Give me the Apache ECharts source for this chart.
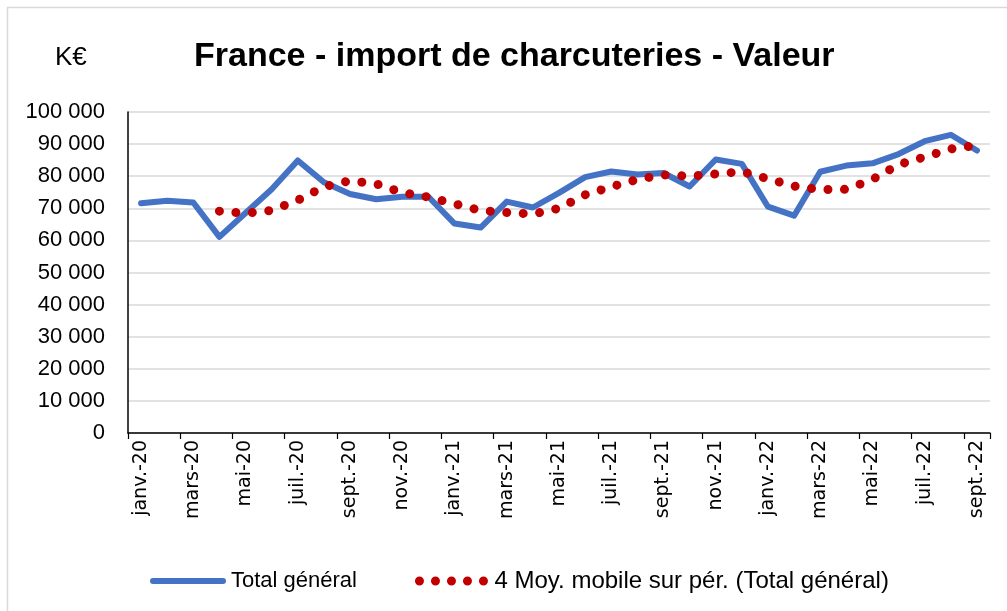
<!DOCTYPE html>
<html>
<head>
<meta charset="utf-8">
<script src="https://cdn.jsdelivr.net/npm/echarts@6/dist/echarts.min.js"></script>
<style>
  html, body { margin: 0; padding: 0; background: #fff; }
  #chart { width: 1007px; height: 611px; }
</style>
</head>
<body>
<div id="chart"></div>
<script>
// Monthly categories, janv.-20 to sept.-22
const months = [
  'janv.-20', 'févr.-20', 'mars-20', 'avr.-20', 'mai-20', 'juin-20', 'juil.-20', 'août-20', 'sept.-20', 'oct.-20', 'nov.-20', 'déc.-20',
  'janv.-21', 'févr.-21', 'mars-21', 'avr.-21', 'mai-21', 'juin-21', 'juil.-21', 'août-21', 'sept.-21', 'oct.-21', 'nov.-21', 'déc.-21',
  'janv.-22', 'févr.-22', 'mars-22', 'avr.-22', 'mai-22', 'juin-22', 'juil.-22', 'août-22', 'sept.-22'
];

// Import value, K€
const totalGeneral = [
  71600, 72350, 71800, 61100, 68550, 75950, 84900, 78100, 74450, 72800, 73600, 73600,
  65250, 64000, 72100, 70250, 74800, 79700, 81450, 80500, 81000, 76800, 85200, 83850,
  70500, 67700, 81400, 83300, 84000, 86900, 90900, 92900, 88000
];

// 4-period moving average, K€
const moyMobile = [
  null, null, null, 69100, 68450, 69350, 72500, 76700, 78600, 77600, 74900, 73500,
  71400, 69300, 68700, 68200, 70000, 74200, 76700, 79000, 80400, 80000, 80700, 81400,
  79200, 76900, 75850, 75900, 79000, 83600, 86000, 88500, 89600
];

const seriesNames = ['Total général', '4 Moy. mobile sur pér. (Total général)'];
const titleText = 'France - import de charcuteries - Valeur';
const unitText = 'K€';

const BLUE = '#4472C4';
const RED = '#C00000';
const FONT = '"Liberation Sans", Arial, sans-serif';
const WIDE_FONT = '"DejaVu Sans", Verdana, sans-serif';

// five round dots for the moving-average legend key
const dotsIcon = 'path://' + [4.5, 20.5, 36.5, 52.5, 68.5].map(function (cx) {
  return 'M' + (cx - 4.5) + ',4.5 a4.5,4.5 0 1,0 9,0 a4.5,4.5 0 1,0 -9,0 Z';
}).join(' ');
const barIcon = 'path://M3,0 H73 A3,3 0 0,1 73,6 H3 A3,3 0 0,1 3,0 Z';

function fmtThousands(v) {
  return String(v).replace(/\B(?=(\d{3})+(?!\d))/g, ' ');
}

const chart = echarts.init(document.getElementById('chart'), null, { renderer: 'canvas' });

chart.setOption({
  backgroundColor: '#ffffff',
  animation: false,
  title: [
    {
      text: titleText,
      left: 189,
      top: 35,
      textStyle: { fontFamily: FONT, fontWeight: 'bold', fontSize: 34, color: '#000' }
    },
    {
      text: unitText,
      left: 50,
      top: 40,
      textStyle: { fontFamily: FONT, fontWeight: 'normal', fontSize: 26, color: '#000' }
    }
  ],
  graphic: [
    {
      type: 'rect',
      shape: { x: 7.5, y: 7.5, width: 1100, height: 700 },
      style: { fill: 'none', stroke: '#D9D9D9', lineWidth: 1.5 },
      silent: true,
      z: -1
    }
  ],
  legend: {
    left: 145,
    top: 564,
    itemWidth: 76,
    itemHeight: 9,
    itemGap: 58,
    textStyle: { fontFamily: FONT, fontSize: 22, color: '#000' },
    data: [
      { name: seriesNames[0], icon: barIcon, itemStyle: { color: BLUE, borderWidth: 0 } },
      { name: seriesNames[1], icon: dotsIcon, itemStyle: { color: RED, borderWidth: 0 },
        textStyle: { fontSize: 24 } }
    ]
  },
  grid: { left: 128, right: 17, top: 112, bottom: 178, containLabel: false },
  xAxis: {
    type: 'category',
    data: months,
    boundaryGap: true,
    axisLine: { show: true, lineStyle: { color: '#000', width: 1.5 } },
    axisTick: { show: true, interval: 1, length: 6, alignWithLabel: false, lineStyle: { color: '#000', width: 1.2 } },
    axisLabel: {
      interval: 1,
      rotate: 90,
      margin: 7,
      fontFamily: WIDE_FONT,
      fontSize: 19,
      color: '#000'
    },
    splitLine: { show: false }
  },
  yAxis: {
    type: 'value',
    min: 0,
    max: 100000,
    interval: 10000,
    axisLine: { show: true, lineStyle: { color: '#000', width: 1.5 } },
    axisTick: { show: false },
    axisLabel: {
      margin: 23,
      fontFamily: FONT,
      fontSize: 22,
      color: '#000',
      formatter: fmtThousands
    },
    splitLine: { show: true, lineStyle: { color: '#D9D9D9', width: 1.5 } }
  },
  series: [
    {
      name: seriesNames[0],
      type: 'line',
      data: totalGeneral,
      symbol: 'none',
      color: BLUE,
      lineStyle: { color: BLUE, width: 6, join: 'round', cap: 'round' },
      z: 2
    },
    {
      name: seriesNames[1],
      type: 'line',
      data: moyMobile,
      symbol: 'none',
      color: RED,
      connectNulls: false,
      lineStyle: { color: RED, width: 9, type: [0.01, 16.5], cap: 'round', join: 'round' },
      z: 3
    }
  ]
});
</script>
</body>
</html>
